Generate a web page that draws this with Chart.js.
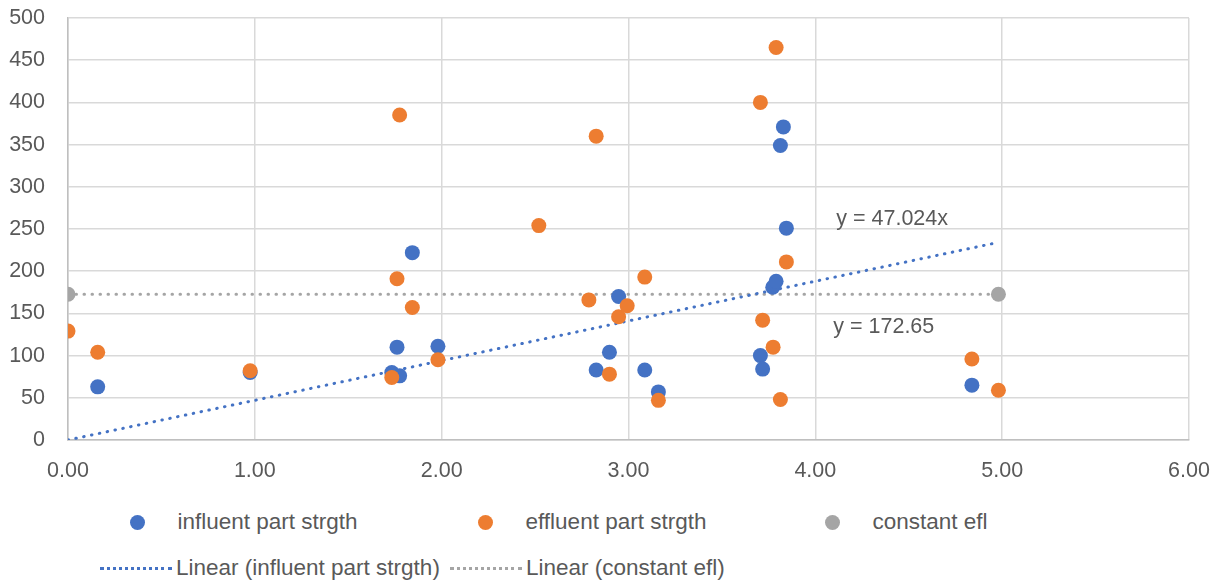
<!DOCTYPE html>
<html>
<head>
<meta charset="utf-8">
<script src="https://cdn.jsdelivr.net/npm/chart.js@4.4.0/dist/chart.umd.min.js"></script>
<style>
  html, body { margin: 0; padding: 0; background: #fff; }
  #wrap { position: relative; width: 1223px; height: 585px; font-family: "Liberation Sans", Arial, sans-serif; color: #595959; }
  #box { position: absolute; left: 0; top: 0; width: 1223px; height: 495px; }
  .lg { position: absolute; display: flex; align-items: center; height: 26px; font-size: 22.5px; white-space: nowrap; }
  .dot { width: 15px; height: 15px; border-radius: 50%; display: inline-block; }
  .dash { width: 72px; height: 0; border-top: 3px dotted; display: inline-block; }
</style>
</head>
<body>
<div id="wrap">
  <div id="box"><canvas id="chart"></canvas></div>
  <div id="legend"></div>
</div>
<script>
// values
const INFLUENT_X = [0.159, 0.975, 1.733, 1.761, 1.775, 1.843, 1.980, 2.827, 2.898, 2.947, 3.087, 3.160, 3.706, 3.718, 3.772, 3.790, 3.813, 3.829, 3.845, 4.838];
const INFLUENT_Y = [63, 80, 80, 110, 76, 222, 111, 83, 104, 170, 83, 57, 100, 84, 181, 188, 349, 371, 251, 65];

const EFFLUENT_X = [0.000, 0.159, 0.975, 1.733, 1.761, 1.775, 1.843, 1.980, 2.520, 2.788, 2.827, 2.898, 2.947, 2.993, 3.087, 3.160, 3.706, 3.718, 3.774, 3.790, 3.813, 3.845, 4.838, 4.980];
const EFFLUENT_Y = [129, 104, 82, 74, 191, 385, 157, 95, 254, 166, 360, 78, 146, 159, 193, 47, 400, 142, 110, 465, 48, 211, 96, 59];

const CONSTANT_X = [0, 4.98];
const CONSTANT_Y = [172.65, 172.65];

// trendlines as Excel reported them
const TREND_SLOPE = 47.024;
const TREND_X = [0, 4.98];
const TREND_LABELS = [
  { text: 'y = 47.024x', x: 4.112, y: 262 },
  { text: 'y = 172.65', x: 4.096, y: 134 },
];

const X_TICKS = ['0.00', '1.00', '2.00', '3.00', '4.00', '5.00', '6.00'];

const BLUE = '#4472C4';
const ORANGE = '#ED7D31';
const GRAY = '#A5A5A5';
const TEXT = '#595959';
const FONT = '"Liberation Sans", Arial, sans-serif';

const pts = (xs, ys) => xs.map((x, i) => ({ x, y: ys[i] }));

const trendLabels = {
  id: 'trendLabels',
  afterDatasetsDraw(chart) {
    const { ctx, scales: { x, y } } = chart;
    ctx.save();
    ctx.font = '21.5px ' + FONT;
    ctx.fillStyle = TEXT;
    ctx.textBaseline = 'middle';
    TREND_LABELS.forEach(l => ctx.fillText(l.text, x.getPixelForValue(l.x), y.getPixelForValue(l.y)));
    ctx.restore();
  },
};

const scatter = (label, data, color, order) => ({
  label, data, order,
  backgroundColor: color,
  borderColor: color,
  borderWidth: 0,
  pointRadius: 7.5,
  pointHoverRadius: 7.5,
});

const trend = (label, data, color) => ({
  label, data,
  type: 'line',
  order: 5,
  showLine: true,
  borderColor: color,
  borderWidth: 3,
  borderDash: [0.5, 7.5],
  borderCapStyle: 'round',
  pointRadius: 0,
  fill: false,
});

const tickFont = { family: FONT, size: 21.5 };

new Chart(document.getElementById('chart'), {
  type: 'scatter',
  data: {
    datasets: [
      scatter('influent part strgth', pts(INFLUENT_X, INFLUENT_Y), BLUE, 3),
      scatter('effluent part strgth', pts(EFFLUENT_X, EFFLUENT_Y), ORANGE, 2),
      scatter('constant efl', pts(CONSTANT_X, CONSTANT_Y), GRAY, 1),
      trend('Linear (influent part strgth)', TREND_X.map(x => ({ x, y: TREND_SLOPE * x })), BLUE),
      trend('Linear (constant efl)', pts(TREND_X, CONSTANT_Y), GRAY),
    ],
  },
  options: {
    responsive: true,
    maintainAspectRatio: false,
    animation: false,
    layout: { autoPadding: false, padding: { left: 0, right: 34, top: 18, bottom: 5 } },
    plugins: { legend: { display: false }, tooltip: { enabled: false } },
    scales: {
      x: {
        type: 'linear',
        min: 0,
        max: 6,
        // pin the plot box; labels may overflow into the page padding
        afterFit: s => { s.height = 50; s.paddingLeft = 0; s.paddingRight = 0; },
        ticks: { stepSize: 1, color: TEXT, font: tickFont, padding: 18, callback: (v) => X_TICKS[v] },
        grid: { color: '#d9d9d9', lineWidth: 1.5, drawTicks: false },
        border: { color: '#bfbfbf', width: 1.5 },
      },
      y: {
        min: 0,
        max: 500,
        afterFit: s => { s.width = 68; s.paddingTop = 0; s.paddingBottom = 0; },
        ticks: { stepSize: 50, color: TEXT, font: tickFont, padding: 23 },
        grid: { color: '#d9d9d9', lineWidth: 1.5, drawTicks: false },
        border: { color: '#bfbfbf', width: 1.5 },
      },
    },
  },
  plugins: [trendLabels],
});

// Excel-style legend below the plot
const legendItems = [
  { text: 'influent part strgth', color: BLUE, kind: 'dot', left: 129.5, top: 509 },
  { text: 'effluent part strgth', color: ORANGE, kind: 'dot', left: 477.5, top: 509 },
  { text: 'constant efl', color: GRAY, kind: 'dot', left: 824.5, top: 509 },
  { text: 'Linear (influent part strgth)', color: BLUE, kind: 'dash', left: 100, top: 555 },
  { text: 'Linear (constant efl)', color: GRAY, kind: 'dash', left: 450, top: 555 },
];
const legend = document.getElementById('legend');
legendItems.forEach(it => {
  const d = document.createElement('div');
  d.className = 'lg';
  d.style.left = it.left + 'px';
  d.style.top = it.top + 'px';
  const m = document.createElement('span');
  if (it.kind === 'dot') {
    m.className = 'dot';
    m.style.background = it.color;
    m.style.marginRight = '33px';
  } else {
    m.className = 'dash';
    m.style.borderColor = it.color;
    m.style.marginRight = '4px';
  }
  d.appendChild(m);
  d.appendChild(document.createTextNode(it.text));
  legend.appendChild(d);
});
</script>
</body>
</html>
